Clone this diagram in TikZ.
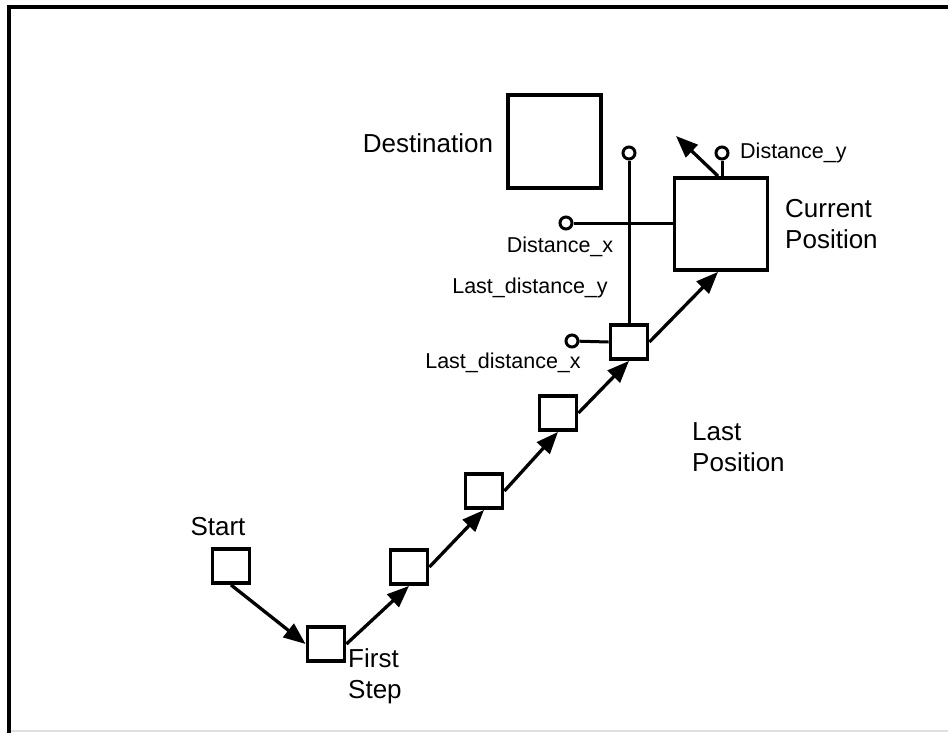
\documentclass[tikz,border=0pt]{standalone}
\usepackage{fontspec}
\setmainfont{Liberation Sans}
\usetikzlibrary{arrows.meta,positioning}

\begin{document}
\begin{tikzpicture}[
  x=1pt,
  y=-1pt,
  every node/.style={inner sep=0pt},
  stepbox/.style={draw, line width=3.8pt, fill=white, minimum width=37, minimum height=34},
  bigbox/.style={draw, line width=3.8pt, fill=white, minimum width=93, minimum height=92},
  endring/.style={draw, circle, line width=3pt, fill=white, minimum size=12},
  move/.style={line width=3.3pt, -{Triangle[length=22pt, width=17pt]}},
  wire/.style={line width=3pt},
  biglab/.style={font=\fontsize{26}{31}\selectfont, align=left},
  smalllab/.style={font=\fontsize{21.5}{26}\selectfont},
]

% Page frame.
\useasboundingbox (0,0) rectangle (948,732);
\clip (0,0) rectangle (948,732);
\draw[gray!25, line width=1.5pt] (9,731) -- (948,731);
\draw[line width=3.5pt] (9,740) -- (9,7) -- (960,7);

% Path of steps.
\node[stepbox] (start) at (231,566) {};
\node[stepbox] (step1) at (326,644) {};
\node[stepbox] (step2) at (409,567) {};
\node[stepbox] (step3) at (484,491) {};
\node[stepbox] (step4) at (558,413) {};
\node[stepbox] (lastpos) at (629,342) {};
\node[bigbox] (curpos) at (721,224) {};
\node[bigbox, minimum height=93] (dest) at (554.5,141.5) {};

% Moves between steps.
\draw[move] (start.south) -- (step1.west);
\draw[move] (step1.east) -- (step2.south);
\draw[move] (step2.east) -- (step3.south);
\draw[move] (step3.east) -- (step4.south);
\draw[move] (step4.east) -- (lastpos.south);
\draw[move] (lastpos.east) -- ([xshift=-3]curpos.south);

% Distance rods with their ring ends.
\node[endring] (ldyend) at (629,153) {};
\node[endring] (dxend) at (566,223) {};
\node[endring] (ldxend) at (572,341) {};
\node[endring] (dyend) at (722,153) {};
\draw[wire] (ldyend) -- (lastpos.north);
\draw[wire] (dxend) -- (dxend -| curpos.west);
\draw[wire] (ldxend) -- (lastpos.west);
\draw[wire] (dyend) -- (dyend |- curpos.north);

% Heading of the current position.
\coordinate (headtip) at (676,136);
\draw[move] ([xshift=-3]curpos.north) -- (headtip);

% Labels.
\node[biglab] (startlbl) at (218,527) {Start};
\node[biglab, anchor=west] (steplbl) at (348,676) {First\\Step};
\node[biglab] (destlbl) at (428,143) {Destination};
\node[biglab, anchor=west] (curlbl) at (785,224) {Current\\Position};
\node[biglab, anchor=west] (lastlbl) at (692,447) {Last\\Position};
\node[smalllab, anchor=west] (dylbl) at (740,153) {Distance\_y};
\node[smalllab] (dxlbl) at (560,247) {Distance\_x};
\node[smalllab] (ldylbl) at (530,288) {Last\_distance\_y};
\node[smalllab] (ldxlbl) at (503,363) {Last\_distance\_x};

\end{tikzpicture}
\end{document}
